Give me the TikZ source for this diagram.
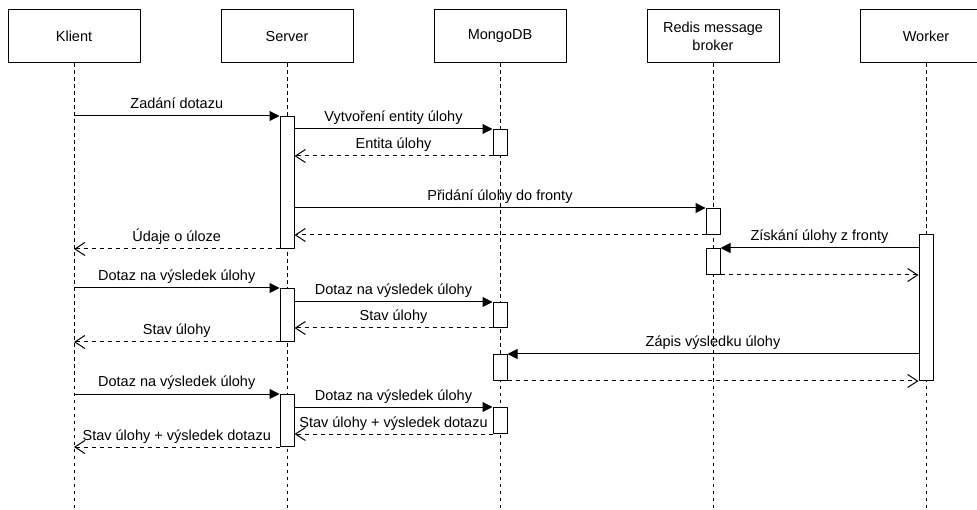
\documentclass[tikz,border=0pt]{standalone}
\usepackage{fontspec}
\setmainfont{Liberation Sans}
\usetikzlibrary{arrows.meta,positioning}
\begin{document}
\begin{tikzpicture}[x=1pt,y=-1pt,line join=round,font=\fontsize{14.5}{17.5}\selectfont,
  head/.style={draw,line width=1pt,minimum width=132pt,minimum height=53pt,align=center,inner sep=2pt},
  actbar/.style={draw,fill=white,line width=1pt,minimum width=14pt,inner sep=0pt,anchor=north},
  lifeline/.style={line width=1pt,dash pattern=on 3.5pt off 3.5pt},
  call/.style={line width=1pt,-{Triangle[length=10pt,width=10pt]}},
  ret/.style={line width=1pt,dash pattern=on 4pt off 4pt,-{Straight Barb[length=10pt,width=13pt]}},
  lbl/.style={midway,anchor=base,yshift=7pt,inner sep=0pt},
  node distance=80pt]
\useasboundingbox (0,0) rectangle (977,510);
\clip (0,0) rectangle (977,510);
\node[head] (klient) at (74,36.5) {Klient};
\node[head,right=of klient] (server) {Server};
\node[head,right=of server] (mongo) {MongoDB};
\node[head,right=of mongo] (redis) {Redis message\\broker};
\node[head,right=of redis] (worker) {Worker};
\foreach \n in {klient,server,mongo,redis,worker}
  \draw[lifeline] (\n.south) -- (\n.south |- 0,510);
\foreach \b/\l/\t/\h in {s1/server/116/132,m1/mongo/129/26,r1/redis/208/26,w1/worker/234/146,
  r2/redis/248/26,s2/server/288/53,m2/mongo/302/25,m3/mongo/354/26,s3/server/394/52,m4/mongo/407/26}
  \node[actbar,minimum height=\h pt] (\b) at (\l |- 0,\t) {};
\draw[call] (s1.north west -| klient) -- node[lbl] {Zadání dotazu} (s1.north west);
\draw[call] (m1.north west -| s1.east) -- node[lbl] {Vytvoření entity úlohy} (m1.north west);
\draw[ret] (m1.south west) -- node[lbl] {Entita úlohy} (m1.south west -| s1.east);
\draw[call] (r1.north west -| s1.east) -- node[lbl] {Přidání úlohy do fronty} (r1.north west);
\draw[ret] (r1.south west) -- (r1.south west -| s1.east);
\draw[ret] (s1.south west) -- node[lbl] {Údaje o úloze} (s1.south west -| klient);
\draw[call] (r2.north east -| w1.west) -- node[lbl] {Získání úlohy z fronty} (r2.north east);
\draw[ret] (r2.south east) -- (r2.south east -| w1.west);
\draw[call] (s2.north west -| klient) -- node[lbl] {Dotaz na výsledek úlohy} (s2.north west);
\draw[call] (m2.north west -| s2.east) -- node[lbl] {Dotaz na výsledek úlohy} (m2.north west);
\draw[ret] (m2.south west) -- node[lbl] {Stav úlohy} (m2.south west -| s2.east);
\draw[ret] (s2.south west) -- node[lbl] {Stav úlohy} (s2.south west -| klient);
\draw[call] (m3.north east -| w1.west) -- node[lbl] {Zápis výsledku úlohy} (m3.north east);
\draw[ret] (m3.south east) -- (w1.south west);
\draw[call] (s3.north west -| klient) -- node[lbl] {Dotaz na výsledek úlohy} (s3.north west);
\draw[call] (m4.north west -| s3.east) -- node[lbl] {Dotaz na výsledek úlohy} (m4.north west);
\draw[ret] (m4.south west) -- node[lbl] {Stav úlohy + výsledek dotazu} (m4.south west -| s3.east);
\draw[ret] (s3.south west) -- node[lbl] {Stav úlohy + výsledek dotazu} (s3.south west -| klient);
\end{tikzpicture}
\end{document}
